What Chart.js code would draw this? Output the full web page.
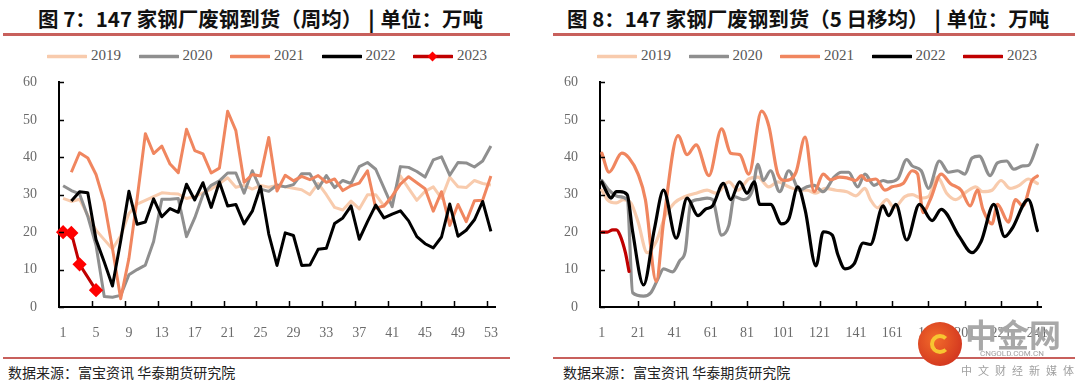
<!DOCTYPE html>
<html>
<head>
<meta charset="utf-8">
<script src="https://cdn.jsdelivr.net/npm/chart.js@4.4.1/dist/chart.umd.min.js"></script>
<style>
  body { margin: 0; width: 1080px; height: 388px; background: #fff; position: relative; overflow: hidden; font-family: "Noto Sans CJK SC", sans-serif; }
  .title { position: absolute; top: 3px; font-weight: bold; font-size: 20.5px; color: #111; white-space: nowrap; }
  .title b { font-weight: 900; padding: 0 6px; }
  .rule { position: absolute; background: #c8605c; }
  .src { position: absolute; top: 362px; font-size: 14px; color: #222; white-space: nowrap; }
  canvas { position: absolute; }
  .lg { position: absolute; top: 47px; height: 20px; font: 15px "Liberation Serif", serif; color: #555; white-space: nowrap; }
  .lg svg { vertical-align: middle; margin-right: 4px; }
  .wm { position: absolute; color: #a0a0a0; white-space: nowrap; }
</style>
</head>
<body>
<div class="title" style="left:38px">图 7：147 家钢厂废钢到货（周均）<b>|</b>单位：万吨</div>
<div class="title" style="left:567px">图 8：147 家钢厂废钢到货（5 日移均）<b>|</b>单位：万吨</div>
<div class="rule" style="left:3px;width:507px;top:33px;height:3px"></div>
<div class="rule" style="left:553px;width:522px;top:33px;height:3px"></div>

<div id="lgL"></div>
<div id="lgR"></div>

<canvas id="weekly" width="520" height="280" style="left:0;top:60px"></canvas>
<canvas id="daily" width="535" height="280" style="left:545px;top:60px"></canvas>

<div class="rule" style="left:3px;width:507px;top:357px;height:2px"></div>
<div class="rule" style="left:553px;width:522px;top:357px;height:2px"></div>
<div class="src" style="left:8px">数据来源：富宝资讯 华泰期货研究院</div>
<div class="src" style="left:563px">数据来源：富宝资讯 华泰期货研究院</div>

<!-- watermark -->
<div style="position:absolute;left:918px;top:322px;width:44px;height:44px;border-radius:50%;background:radial-gradient(circle at 40% 40%,#f26b2a,#c9261c)"></div>
<div style="position:absolute;left:930px;top:334px;width:20px;height:20px;border-radius:50%;border:4px solid #f7c531;border-right-color:transparent;box-sizing:border-box"></div>
<div class="wm" style="left:965px;top:310px;font-size:32px;font-weight:bold;color:#a8a8a8">中金网</div>
<div class="wm" style="left:980px;top:349px;font-size:8px;font-family:Roboto,sans-serif">CNGOLD.COM.CN</div>
<div class="wm" style="left:961px;top:362px;font-size:11px;letter-spacing:6px">中文财经新媒体</div>

<script>
// ---- weekly data (week 1..53), 万吨 ----
const weeks = ['1','2','3','4','5','6','7','8','9','10','11','12','13','14','15','16','17','18','19','20',
  '21','22','23','24','25','26','27','28','29','30','31','32','33','34','35','36','37','38','39','40',
  '41','42','43','44','45','46','47','48','49','50','51','52','53'];

const w2019 = [29, 28.2, 28.8, 24.5, 20.5, 18, 15.5, 19, 25, 27.5, 28.5, 29.5, 30.5, 30.3, 30.2, 29, 29.5,
  30.5, 31.5, 33, 34.5, 32, 32.5, 31.5, 32.5, 32, 32.5, 32.1, 31.7, 31.3, 30, 33, 30, 26.6, 25.9, 28.3, 26.2,
  30, 30, 27, 29, 35, 31.7, 28.5, 30.9, 32.1, 29, 34.7, 32.1, 31.9, 33.8, 33, 32.6];
const w2020 = [32.4, 31.1, 30.2, 24.2, 16.5, 2.8, 2.6, 3.1, 8.6, 10, 11.2, 17.5, 28.8, 28.8, 29, 18.8, 23.8,
  30, 32.5, 33.7, 35.8, 35.8, 30.4, 36.4, 31.5, 30.9, 32.6, 32.1, 32.7, 35.6, 35.6, 31.7, 35.1, 31.9, 33.8, 33,
  37.5, 38.6, 36.8, 31.8, 26.8, 37.5, 37.3, 36.2, 34.7, 39.3, 40.1, 35.2, 38.6, 38.5, 37.4, 39, 43];
const w2021 = [null, 36, 41.2, 39.8, 35.4, 28, 15.6, 2.2, 13, 29, 46.3, 41, 43, 38.2, 35.9, 47.5, 41.8, 40.9,
  35.8, 37.1, 52.3, 47.1, 33.3, 35.4, 35, 45.3, 31, 35.2, 33.7, 34.9, 34, 35.1, 33.3, 34.2, 31.1, 32.4, 33.1,
  36.4, 26.4, 27, 29.6, 32.8, 34.8, 33.2, 31.6, 25.6, 30.8, 21.8, 27.4, 22.8, 28.4, 28.5, 35];
const w2022 = [null, 28.3, 30.8, 30.5, 18, 12, 5.6, 17.7, 30.9, 22.1, 22.7, 28.9, 24.1, 26.3, 25.3, 32.8, 28.6,
  33.2, 26.6, 33.4, 27, 27.4, 22.2, 25.6, 32.2, 19.5, 11.1, 19.8, 19.1, 11.1, 11.2, 15.4, 15.7, 22.3, 23.8, 27,
  18.1, 22.8, 27.2, 23.8, 24.8, 25.7, 23, 18.8, 16.9, 15.8, 18.7, 27.5, 18.9, 20.5, 23.3, 28.2, 20.2];
const w2023 = [20, 19.8, 11.4, null, 4.5];

// ---- 5-day moving average (trading-day index, value) ----
const d2019x = [1, 4, 9, 13, 17, 21, 26, 31, 36, 41, 47, 53, 59, 64, 71, 76, 82, 87, 93, 98, 104, 110, 114, 119,
  124, 130, 136, 141, 146, 149, 153, 158, 162, 168, 172, 177, 181, 186, 191, 196, 202, 207, 211, 216, 221, 226,
  231, 236, 241];
const d2019y = [31.2, 28.7, 27.8, 28.7, 27.8, 22.7, 14.5, 17.5, 24.4, 27.8, 29.5, 30.4, 31.2, 30.4, 33.4, 31.2,
  34.2, 34.7, 32.1, 33.4, 32.1, 31.2, 31.2, 30.4, 31.7, 31.2, 30.8, 29.7, 31.7, 28.7, 26.5, 28.7, 26.5, 29.5, 30,
  29.1, 29.5, 34.7, 30.4, 28.7, 30.8, 32.1, 30.8, 31.2, 33.8, 31.7, 32.5, 34.2, 33];
const d2020x = [1, 5, 10, 15, 18, 24, 28, 32, 35, 40, 44, 47, 50, 54, 59, 62, 67, 71, 74, 79, 84, 87, 90, 94,
  99, 104, 110, 114, 118, 123, 129, 133, 137, 142, 146, 151, 156, 159, 164, 169, 172, 177, 181, 187, 192, 197,
  201, 205, 209, 215, 219, 224, 228, 233, 236, 241];
const d2020y = [33.8, 31.2, 29.5, 28.7, 3.8, 2.9, 3.8, 7.6, 10.2, 9.4, 12.4, 14.9, 27.8, 28.7, 29.1, 28.7, 19.2,
  21.8, 29.5, 28.7, 31.2, 38.1, 33.8, 36.4, 30.8, 36.4, 31.2, 32.1, 32.5, 30.8, 34.7, 36, 36, 32.1, 35.5, 32.5,
  33.8, 33.4, 34.2, 39.4, 37.7, 36.4, 31.7, 39, 36, 36.4, 35.5, 39.8, 40.3, 35.1, 38.5, 39, 36.8, 37.7, 37.8, 43.3];
const d2021x = [1, 5, 12, 16, 21, 25, 31, 35, 43, 48, 53, 60, 67, 72, 77, 82, 89, 93, 98, 102, 108, 113, 118,
  123, 127, 132, 136, 141, 144, 147, 152, 157, 161, 167, 172, 175, 178, 182, 188, 193, 199, 204, 208, 211, 216,
  219, 225, 229, 233, 238, 241];
const d2021y = [41.1, 36, 41.1, 39.8, 35.5, 28.7, 6.8, 22.7, 45.8, 40.7, 43.3, 35.1, 47.6, 41.1, 40.7, 35.5,
  52.3, 48.4, 35.5, 33.8, 36, 45.4, 30.8, 35.5, 34, 34.7, 34.5, 33.8, 35.1, 33.8, 34.2, 31.2, 32.1, 33, 36.4,
  35.5, 25.2, 28.7, 35.5, 33, 31.2, 27, 31.2, 26.1, 22.2, 27.4, 22.7, 28.7, 27, 33.8, 35];
const d2022x = [1, 4, 6, 9, 11, 15, 18, 24, 30, 35, 42, 48, 54, 58, 62, 68, 72, 77, 81, 85, 88, 94, 100, 104,
  109, 113, 119, 123, 128, 131, 135, 140, 145, 149, 156, 159, 163, 169, 176, 183, 188, 198, 205, 210, 217, 223,
  227, 236, 241];
const d2022y = [33.4, 30.4, 29.1, 30.8, 30.8, 30, 20.1, 5.9, 20.9, 31.2, 18.4, 29.1, 24.4, 26.1, 27, 33, 28.7,
  33.4, 30.4, 33.4, 27.4, 27.4, 22.2, 23.5, 32.1, 26, 11, 20.1, 19.2, 14.1, 10.2, 11.5, 17.1, 16.7, 27, 24.4,
  27.4, 17.9, 27.4, 23.1, 26.1, 18.8, 14.5, 17.5, 27.4, 18.8, 20.9, 28.7, 20.4];
const d2023x = [1, 4, 7, 9, 11, 14, 16];
const d2023y = [20, 20, 20.6, 20.6, 19.2, 14.5, 9.5];

const yTicks = [0, 10, 20, 30, 40, 50, 60];
const dayTicks = [1, 21, 41, 61, 81, 101, 121, 141, 161, 181, 201, 221, 241];

const colors = { '2019': '#F8CBAD', '2020': '#8F8F8F', '2021': '#F0865F', '2022': '#000000', '2023': '#C00000' };
const tickFont = { family: '"Liberation Serif", serif', size: 14 };

function pts(xs, ys) { return xs.map((x, i) => ({ x: x, y: ys[i] })); }

// small tick marks drawn inside the plot, like the original
const inwardTicks = {
  id: 'inwardTicks',
  afterDatasetsDraw(chart, args, opts) {
    const { ctx, chartArea: a, scales: { x, y } } = chart;
    ctx.save();
    ctx.strokeStyle = '#000';
    ctx.lineWidth = 1.5;
    ctx.beginPath();
    y.ticks.forEach(t => {
      const py = Math.round(y.getPixelForValue(t.value)) + 0.5;
      ctx.moveTo(a.left, py); ctx.lineTo(a.left + 5, py);
    });
    opts.xs(x).forEach(px => {
      ctx.moveTo(px, a.bottom); ctx.lineTo(px, a.bottom - 6);
    });
    ctx.stroke();
    ctx.restore();
  }
};

function yScale(width) {
  return {
    min: 0, max: 60,
    afterBuildTicks: s => { s.ticks = yTicks.map(v => ({ value: v })); },
    afterFit: s => { s.width = width; },
    grid: { display: false },
    border: { display: true, color: '#000', width: 2 },
    ticks: { color: '#6b6b6b', font: tickFont, padding: 14 }
  };
}

function legend(id, left, step, withMarker) {
  const box = document.getElementById(id);
  ['2019', '2020', '2021', '2022', '2023'].forEach((name, i) => {
    const d = document.createElement('div');
    d.className = 'lg';
    d.style.left = (left + i * step) + 'px';
    let marker = '';
    if (withMarker && name === '2023') marker = '<rect x="16" y="5" width="7" height="7" fill="#FF0000" transform="rotate(45 19.5 8.5)"/>';
    d.innerHTML = '<svg width="40" height="17"><line x1="1" y1="8.5" x2="39" y2="8.5" stroke="' + colors[name] +
      '" stroke-width="3.5" stroke-linecap="round"/>' + marker + '</svg>' + name;
    box.appendChild(d);
  });
}
legend('lgL', 47, 91.5, true);
legend('lgR', 597, 91.5, false);

// ---- weekly chart ----
new Chart(document.getElementById('weekly'), {
  type: 'line',
  data: {
    labels: weeks,
    datasets: [
      { label: '2019', data: w2019, borderColor: colors['2019'], borderWidth: 3, pointRadius: 0, order: 4 },
      { label: '2020', data: w2020, borderColor: colors['2020'], borderWidth: 3, pointRadius: 0, order: 3 },
      { label: '2021', data: w2021, borderColor: colors['2021'], borderWidth: 3, pointRadius: 0, order: 2 },
      { label: '2022', data: w2022, borderColor: colors['2022'], borderWidth: 3, pointRadius: 0, order: 1 },
      { label: '2023', data: w2023, borderColor: colors['2023'], borderWidth: 3, spanGaps: true, order: 0,
        pointStyle: 'rectRot', pointRadius: 5, pointBackgroundColor: '#FF0000', pointBorderColor: '#FF0000' }
    ]
  },
  options: {
    responsive: false,
    animation: false,
    layout: { padding: { top: 13, right: 25, left: 0, bottom: 0 } },
    plugins: { legend: { display: false }, tooltip: { enabled: false },
      inwardTicks: { xs: x => [1, 2, 3, 4, 5, 6, 7, 8, 9, 10, 11, 12, 13].map(k =>
        Math.round((x.getPixelForValue(4 * k - 1) + x.getPixelForValue(4 * k)) / 2) + 0.5) } },
    elements: { line: { tension: 0, borderJoinStyle: 'round' } },
    scales: {
      x: {
        offset: true,
        afterFit: s => { s.height = 33; },
        grid: { display: false },
        border: { display: true, color: '#000', width: 2 },
        ticks: { autoSkip: false, maxRotation: 0, color: '#6b6b6b', font: tickFont, padding: 10,
          callback: (v, i) => (i % 4 === 0 ? weeks[i] : '') }
      },
      y: yScale(59)
    }
  },
  plugins: [inwardTicks]
});

// ---- 5-day average chart ----
new Chart(document.getElementById('daily'), {
  type: 'line',
  data: {
    datasets: [
      { label: '2019', data: pts(d2019x, d2019y), borderColor: colors['2019'], order: 4 },
      { label: '2020', data: pts(d2020x, d2020y), borderColor: colors['2020'], order: 3 },
      { label: '2021', data: pts(d2021x, d2021y), borderColor: colors['2021'], order: 2 },
      { label: '2022', data: pts(d2022x, d2022y), borderColor: colors['2022'], order: 1 },
      { label: '2023', data: pts(d2023x, d2023y), borderColor: colors['2023'], order: 0 }
    ]
  },
  options: {
    responsive: false,
    animation: false,
    layout: { padding: { top: 13, right: 39, left: 0, bottom: 0 } },
    plugins: { legend: { display: false }, tooltip: { enabled: false },
      inwardTicks: { xs: x => dayTicks.slice(1).map(v => Math.round(x.getPixelForValue(v)) + 0.5) } },
    elements: {
      line: { tension: 0.4, cubicInterpolationMode: 'monotone', borderWidth: 3.2, borderCapStyle: 'round', borderJoinStyle: 'round' },
      point: { radius: 0 }
    },
    scales: {
      x: {
        type: 'linear', min: 0, max: 243,
        afterBuildTicks: s => { s.ticks = dayTicks.map(v => ({ value: v })); },
        afterFit: s => { s.height = 33; },
        grid: { display: false },
        border: { display: true, color: '#000', width: 2 },
        ticks: { autoSkip: false, maxRotation: 0, color: '#6b6b6b', font: tickFont, padding: 10 }
      },
      y: yScale(55)
    }
  },
  plugins: [inwardTicks]
});
</script>
</body>
</html>
